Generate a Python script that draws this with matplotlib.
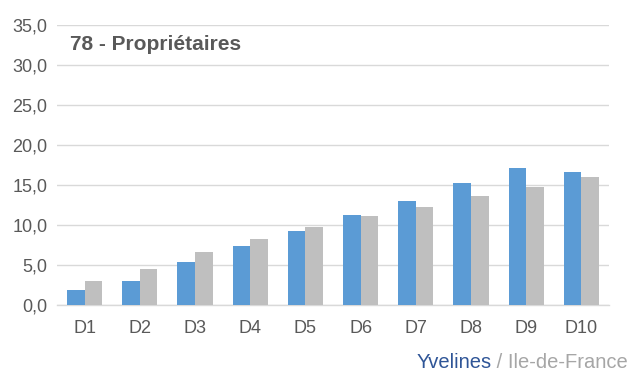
import numpy as np
import matplotlib
matplotlib.use('Agg')
import matplotlib.pyplot as plt
from matplotlib import font_manager

# data
deciles = ['D1', 'D2', 'D3', 'D4', 'D5', 'D6', 'D7', 'D8', 'D9', 'D10']
yvelines = [1.9, 3.0, 5.4, 7.4, 9.2, 11.2, 13.0, 15.2, 17.1, 16.6]
idf = [3.0, 4.5, 6.6, 8.2, 9.7, 11.1, 12.3, 13.6, 14.8, 16.0]
yticks = [0, 5, 10, 15, 20, 25, 30, 35]

names = {f.name for f in font_manager.fontManager.ttflist}
fam = 'Liberation Sans Narrow' if 'Liberation Sans Narrow' in names else 'Liberation Sans'
plt.rcParams['font.family'] = [fam, 'DejaVu Sans']

fig = plt.figure(figsize=(6.31, 3.74), dpi=100)
ax = fig.add_axes([57 / 631, 69 / 374, 552 / 631, 280 / 374])

x = np.arange(len(deciles))
w = 0.32
ax.bar(x - w / 2, yvelines, w, color='#5B9BD5', zorder=3)
ax.bar(x + w / 2, idf, w, color='#BFBFBF', zorder=3)

ax.set_xlim(-0.5, len(deciles) - 0.5)
ax.set_ylim(0, 35)
ax.set_yticks(yticks)
ax.set_yticklabels([('%.1f' % v).replace('.', ',') for v in yticks])
ax.set_xticks(x)
ax.set_xticklabels(deciles)
ax.tick_params(axis='both', length=0, labelsize=13, colors='#595959')
ax.tick_params(axis='x', pad=11)
ax.tick_params(axis='y', pad=7)
ax.grid(axis='y', color='#D9D9D9', linewidth=1, zorder=0)
for s in ['top', 'right', 'left']:
    ax.spines[s].set_visible(False)
ax.spines['bottom'].set_color('#D9D9D9')
ax.spines['bottom'].set_linewidth(1)

ax.text(0.024, 0.93, '78 - Propriétaires', transform=ax.transAxes,
        fontsize=15, fontweight='bold', color='#595959', va='center', ha='left')

# footer legend
t2 = fig.text(628 / 631, 1 - 362 / 374, ' / Ile-de-France', ha='right', va='center',
              fontsize=14.5, color='#A6A6A6')
fig.canvas.draw()
bb = t2.get_window_extent()
fig.text(bb.x0 / fig.bbox.width, 1 - 362 / 374, 'Yvelines', ha='right', va='center',
         fontsize=14.5, color='#2F5597')

fig.savefig('out.png', dpi=100)
